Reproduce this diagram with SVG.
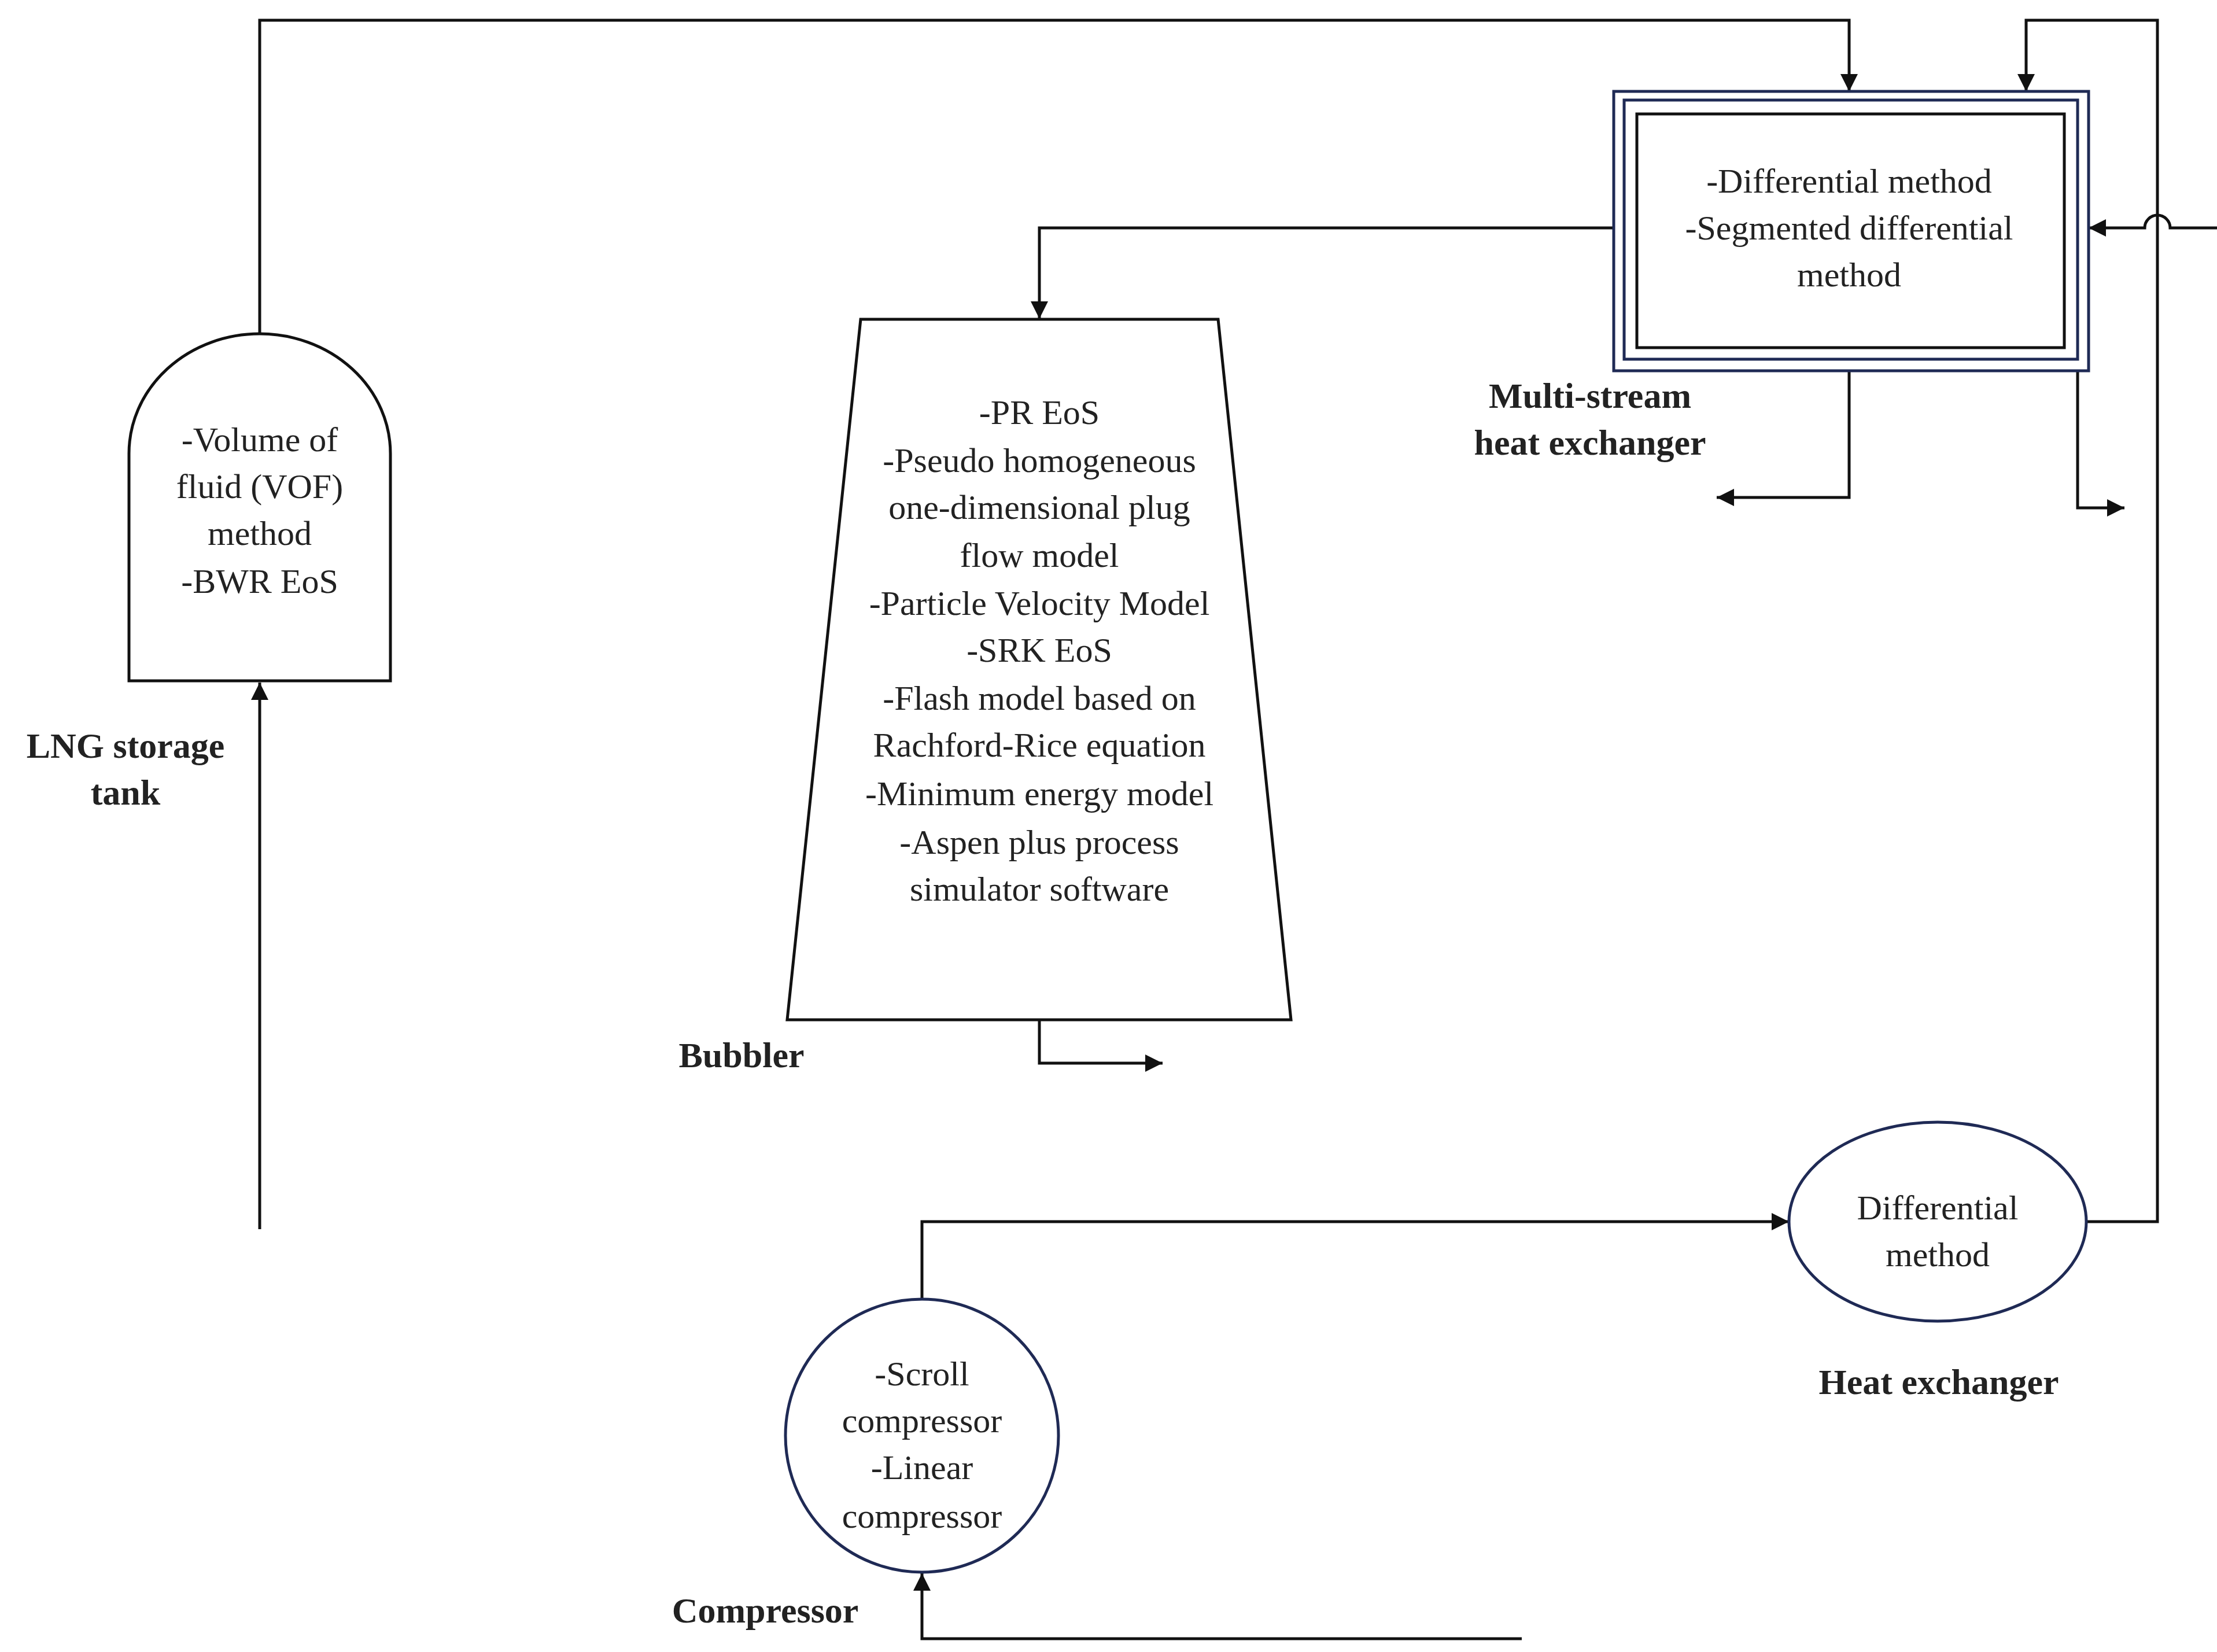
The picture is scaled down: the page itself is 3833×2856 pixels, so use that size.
<svg xmlns="http://www.w3.org/2000/svg" width="3833" height="2856" viewBox="0 0 3833 2856">
<style>
text{font-family:"Liberation Serif","Times New Roman",serif;font-size:60px;fill:#222;text-anchor:middle}
.b{font-weight:bold;font-size:62px}
.ln{fill:none;stroke:#111;stroke-width:5}
.sh{fill:#fff;stroke:#111;stroke-width:5}
.nv{fill:#fff;stroke:#1f2a55;stroke-width:5}
</style>
<defs><marker id="a" viewBox="0 0 10 10" refX="10" refY="5" markerWidth="6" markerHeight="6" orient="auto" markerUnits="userSpaceOnUse"><path d="M0,0L10,5L0,10z" fill="#111"/></marker></defs>
<defs><marker id="m" viewBox="0 0 10 10" refX="10" refY="5" markerWidth="30" markerHeight="30" orient="auto" markerUnits="userSpaceOnUse"><path d="M0,0L10,5L0,10z" fill="#111"/></marker></defs>
<g id="connectors">
<path class="ln" marker-end="url(#m)" d="M449,577V35H3197V158"/>
<path class="ln" marker-end="url(#m)" d="M449,2125V1180"/>
<path class="ln" marker-end="url(#m)" d="M2790,394H1797V551"/>
<path class="ln" marker-end="url(#m)" d="M1797,1765V1838H2010"/>
<path class="ln" marker-end="url(#m)" d="M3197,641V860H2968"/>
<path class="ln" marker-end="url(#m)" d="M3592,641V878H3673"/>
<path class="ln" marker-end="url(#m)" d="M3608,2112H3730V35H3503V158"/>
<path class="ln" marker-end="url(#m)" d="M3833,394H3752A22,22 0 0 0 3708,394H3611"/>
<path class="ln" marker-end="url(#m)" d="M1594,2246V2112H3093"/>
<path class="ln" marker-end="url(#m)" d="M2631,2833H1594V2720"/>
</g>
<g id="tank">
<path class="sh" d="M223,1177V784A226,207 0 0 1 675,784V1177Z"/>
<text x="449" y="780">-Volume of</text><text x="449" y="861">fluid (VOF)</text><text x="449" y="942">method</text><text x="449" y="1025">-BWR EoS</text>
<text class="b" x="217" y="1310">LNG storage</text><text class="b" x="217" y="1391">tank</text>
</g>
<g id="bubbler">
<path class="sh" d="M1488,552H2106L2232,1763H1361Z"/>
<text x="1797" y="733">-PR EoS</text>
<text x="1797" y="816">-Pseudo homogeneous</text>
<text x="1797" y="897">one-dimensional plug</text>
<text x="1797" y="980">flow model</text>
<text x="1797" y="1063">-Particle Velocity Model</text>
<text x="1797" y="1144">-SRK EoS</text>
<text x="1797" y="1227">-Flash model based on</text>
<text x="1797" y="1308">Rachford-Rice equation</text>
<text x="1797" y="1392">-Minimum energy model</text>
<text x="1797" y="1476">-Aspen plus process</text>
<text x="1797" y="1557">simulator software</text>
<text class="b" x="1282" y="1845">Bubbler</text>
</g>
<g id="mshx">
<rect class="nv" x="2790" y="158" width="821" height="483"/>
<rect class="nv" x="2808" y="173" width="784" height="448"/>
<rect class="sh" x="2830" y="197" width="739" height="404"/>
<text x="3197" y="333">-Differential method</text><text x="3197" y="414">-Segmented differential</text><text x="3197" y="495">method</text>
<text class="b" x="2749" y="705">Multi-stream</text><text class="b" x="2749" y="786">heat exchanger</text>
</g>
<g id="hx">
<ellipse class="nv" cx="3350" cy="2112" rx="257" ry="172"/>
<text x="3350" y="2108">Differential</text><text x="3350" y="2189">method</text>
<text class="b" x="3352" y="2410">Heat exchanger</text>
</g>
<g id="compressor">
<circle class="nv" cx="1594" cy="2482" r="236"/>
<text x="1594" y="2395">-Scroll</text><text x="1594" y="2476">compressor</text><text x="1594" y="2557">-Linear</text><text x="1594" y="2641">compressor</text>
<text class="b" x="1323" y="2805">Compressor</text>
</g>
</svg>
